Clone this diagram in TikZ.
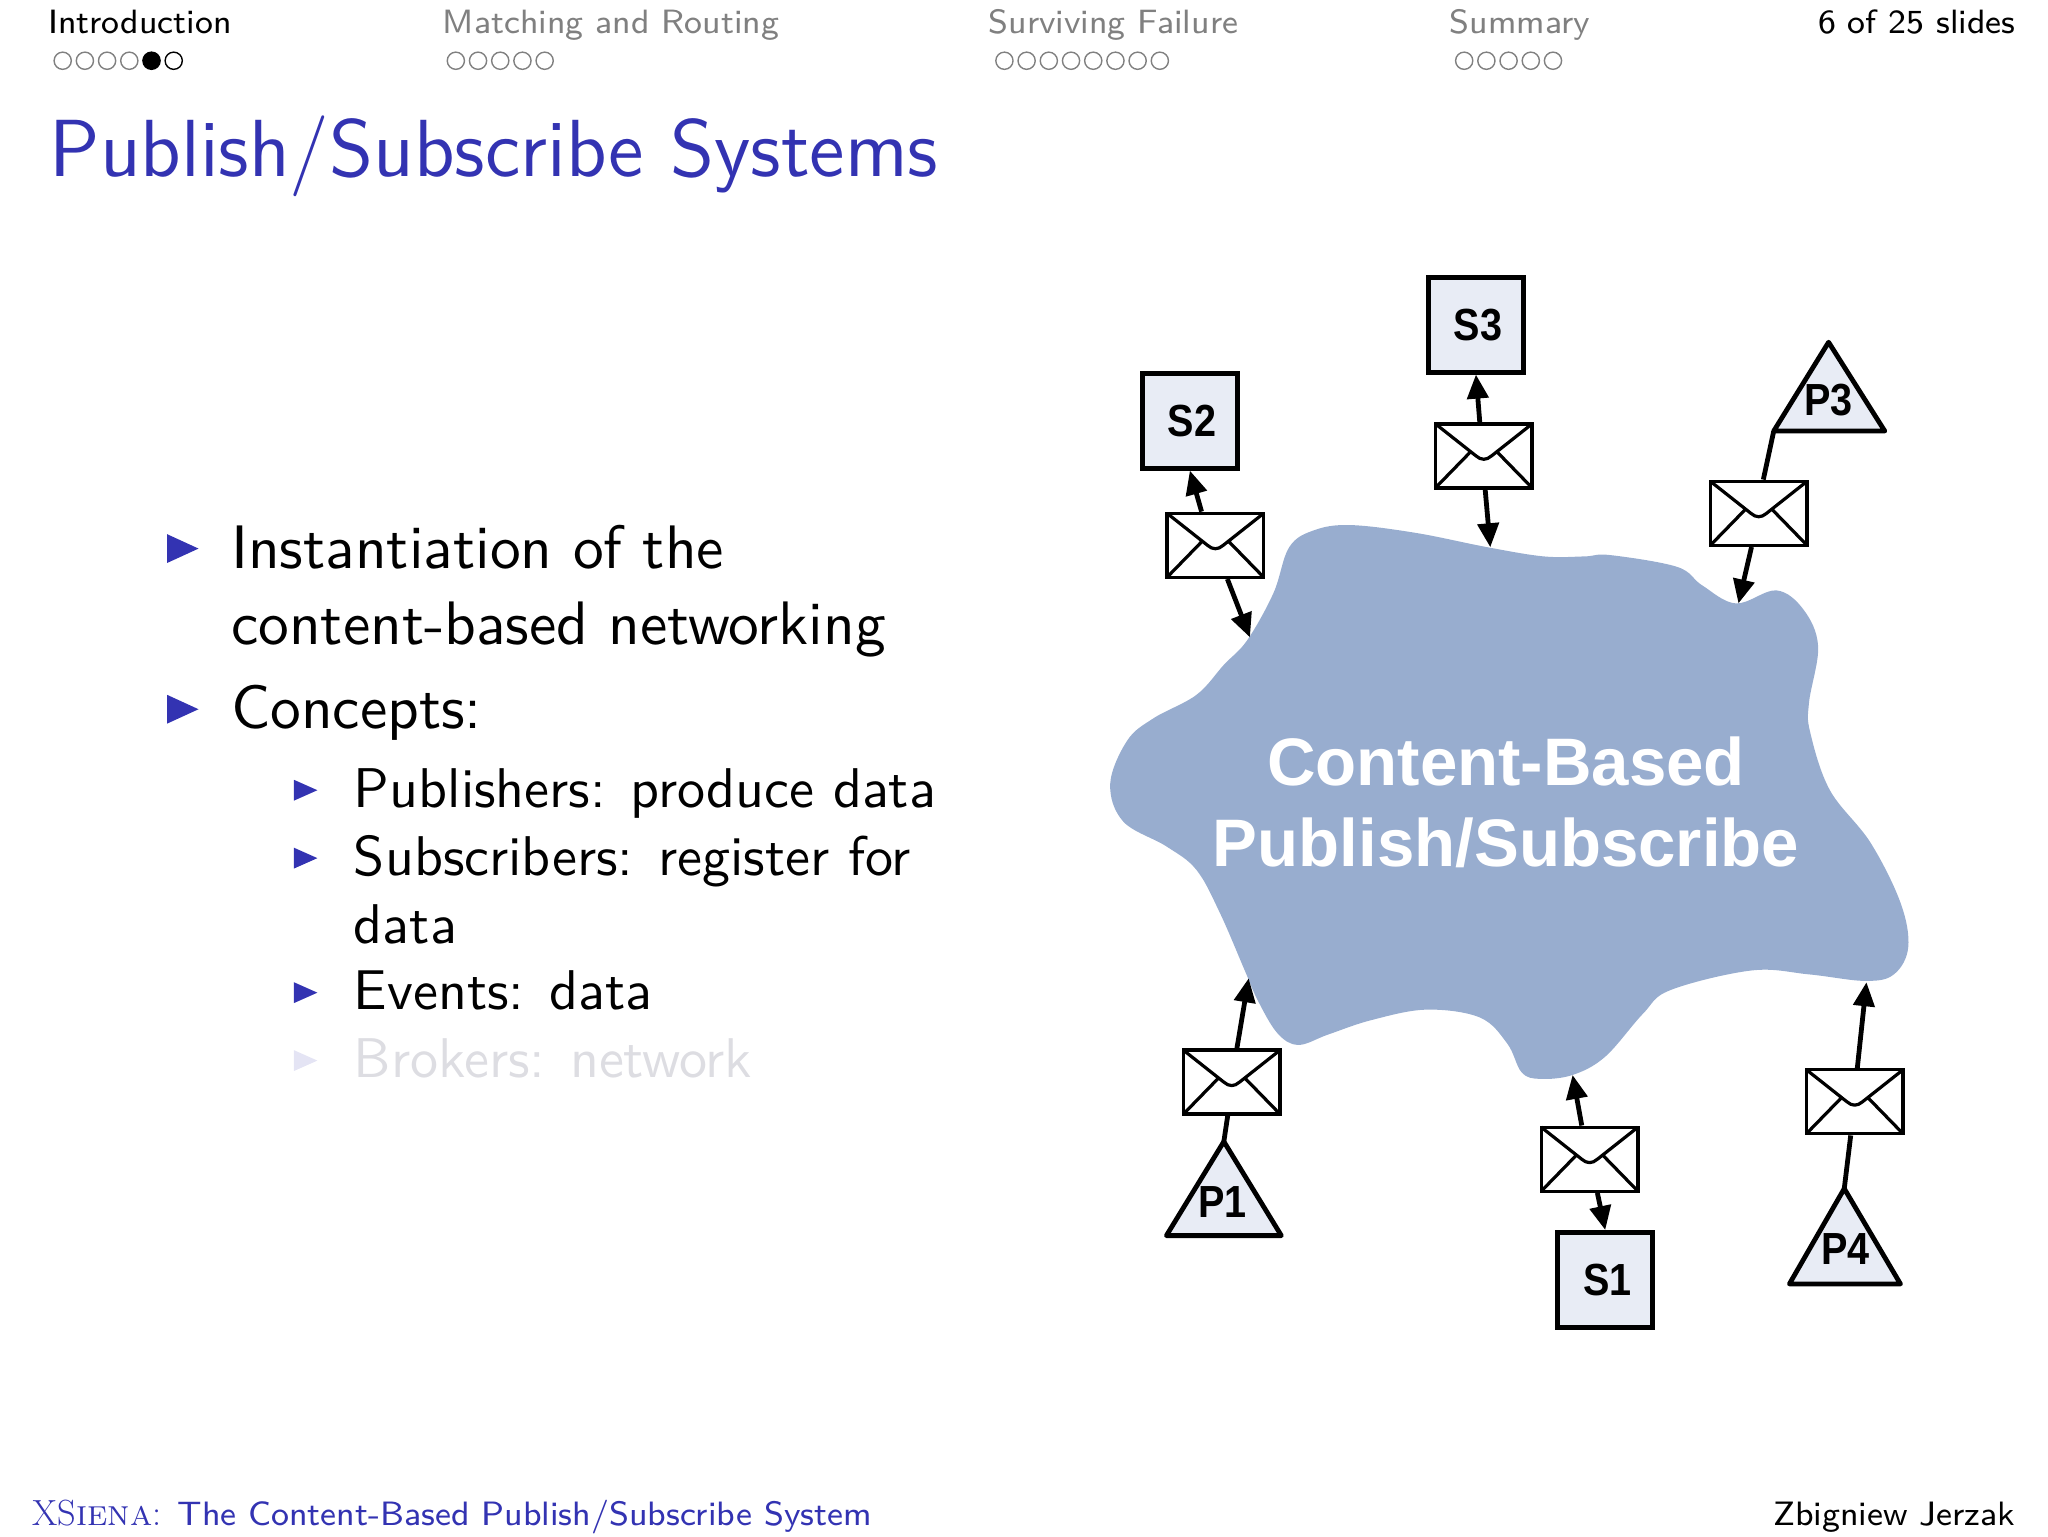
\documentclass[tikz,border=0pt]{standalone}
\usepackage{fontspec}
\usetikzlibrary{arrows.meta,calc}
\newfontfamily\cloudfont{Liberation Sans}
\newfontfamily\labelfont{Liberation Sans}[FakeStretch=0.88]
\newfontfamily\lmeight{lmsans8-regular}[Extension=.otf]
\newfontfamily\lmten{lmsans10-regular}[Extension=.otf]
\newfontfamily\lmtwelve{lmsans12-regular}[Extension=.otf]
\definecolor{beamerblue}{rgb}{0.2,0.2,0.7}
\definecolor{headgray}{gray}{0.5}
\definecolor{blobblue}{HTML}{98ADCF}
\definecolor{nodefill}{HTML}{E8ECF5}
\definecolor{fadetext}{HTML}{DDDDE2}
\definecolor{fadebul}{HTML}{E4E4F4}
\tikzset{
  x=0.65306pt,y=-0.65306pt,
  headtext/.style={font=\lmeight\fontsize{16.85}{20}\selectfont,anchor=base west,inner sep=0pt,outer sep=0pt},
  titletext/.style={font=\lmtwelve\fontsize{40.5}{48}\selectfont,text=beamerblue,anchor=base west,inner sep=0pt,outer sep=0pt},
  itemtext/.style={font=\lmten\fontsize{30.7}{38}\selectfont,anchor=base west,inner sep=0pt,outer sep=0pt},
  subtext/.style={font=\lmten\fontsize{28}{34}\selectfont,anchor=base west,inner sep=0pt,outer sep=0pt},
  foottext/.style={font=\lmeight\fontsize{16.9}{20}\selectfont,anchor=base west,inner sep=0pt,outer sep=0pt},
  navdot/.style={circle,draw=headgray,line width=0.7pt,minimum size=8.6pt,inner sep=0pt},
  navon/.style={navdot,draw=black},
  navfull/.style={navon,fill=black},
  subbox/.style={draw=black,fill=nodefill,line width=2.5pt,minimum width=47.5pt,minimum height=47.5pt,inner sep=0pt,execute at begin node=\hspace*{2pt},font=\labelfont\bfseries\fontsize{22.5}{26}\selectfont},
  pubtri/.style={draw=black,fill=nodefill,line width=2.4pt,line join=round},
  trilabel/.style={inner sep=0pt,font=\labelfont\bfseries\fontsize{22.5}{26}\selectfont},
  envbox/.style={draw=black,fill=white,line width=1.7pt,minimum width=48.3pt,minimum height=32pt,inner sep=0pt},
  envline/.style={draw=black,line width=1.6pt,line join=round},
  conn/.style={draw=black,line width=2.4pt},
  arr/.style={conn,-{Triangle[length=12pt,width=10.5pt]}},
  bigbul/.pic={\fill[beamerblue] (-12,-11)--(12,0)--(-12,11)--cycle;},
  subbul/.pic={\fill[beamerblue] (-9,-8)--(9,0)--(-9,8)--cycle;},
  fadebulpic/.pic={\fill[fadebul] (-9,-8)--(9,0)--(-9,8)--cycle;},
}
\newcommand{\envmail}[3]{%
  \node[envbox] (#1) at (#2,#3) {};
  \draw[envline,shift={(#1.center)}]
    (-37,-24.5) -- (-6,0) .. controls (-2,3.5) and (2,3.5) .. (6,0) -- (37,-24.5)
    (-37,24.5) -- (-10,-3.2) (37,24.5) -- (10,-3.2);
}
\begin{document}
\begin{tikzpicture}
\useasboundingbox (0,0) rectangle (1568,1176);
% header
\node[headtext] (h1) at (37,26) {Introduction};
\node[headtext,text=headgray] (h2) at (339,26) {Matching and Routing};
\node[headtext,text=headgray] (h3) at (757,26) {Surviving Failure};
\node[headtext,text=headgray] (h4) at (1110,26) {Summary};
\node[headtext,anchor=base east] (h5) at (1543,26) {6 of 25 slides};
\foreach \x/\s in {48/navdot,65/navdot,82/navdot,99/navdot,116/navfull,133/navon,
  349/navdot,366/navdot,383/navdot,400/navdot,417/navdot,
  769/navdot,786/navdot,803/navdot,820/navdot,837/navdot,854/navdot,871/navdot,888/navdot,
  1121/navdot,1138/navdot,1155/navdot,1172/navdot,1189/navdot}
  \node[\s] (dot\x) at (\x,46.5) {};
% title
\node[titletext] (title) at (38,135) {Publish/Subscribe Systems};
% items
\pic at (140,420) {bigbul};
\pic at (140,543) {bigbul};
\pic at (234,605) {subbul};
\pic at (234,657) {subbul};
\pic at (234,760) {subbul};
\pic at (234,812) {fadebulpic};
\node[itemtext] (i1) at (177,435) {Instantiation of the};
\node[itemtext] (i2) at (177,493.5) {content-based networking};
\node[itemtext] (i3) at (177,558) {Concepts:};
\node[subtext] (s1) at (271,618) {Publishers: produce data};
\node[subtext] (s2t) at (271,670) {Subscribers: register for};
\node[subtext] (s3t) at (271,722) {data};
\node[subtext] (s4t) at (271,773) {Events: data};
\node[subtext,text=fadetext] (s5t) at (271,825) {Brokers: network};
% footer
\node[foottext,text=beamerblue] (f1) at (25,1168) {{\rmfamily\fontsize{18.2}{20}\selectfont XS\textsc{iena}:} The Content-Based Publish/Subscribe System};
\node[foottext,anchor=base east] (f2) at (1543,1168) {Zbigniew Jerzak};
% cloud
\fill[blobblue] plot[smooth cycle,tension=0.6] coordinates {
 (955,490) (975,454) (987,419) (1006,406) (1034,402) (1084,408) (1139,419) (1182,426) (1213,426) (1233,425)
 (1284,434) (1303,448) (1329,462) (1360,452) (1381,467) (1392,495) (1385,538) (1386,561) (1401,605)
 (1432,645) (1455,691) (1461,725) (1450,746) (1428,751) (1385,746) (1341,743) (1279,758) (1258,776) (1229,809)
 (1204,823) (1179,826) (1165,821) (1154,799) (1133,779) (1092,773) (1050,781) (1017,792) (994,800)
 (978,791) (963,766) (953,743) (934,699) (916,666) (893,648) (860,629) (850,600) (863,567) (883,550)
 (916,532) (937,509)};
\node[font=\cloudfont\bfseries\fontsize{33.6}{40.5}\selectfont,text=white,align=center,inner sep=0pt] (cloud) at (1153,614) {Content-Based\\Publish/Subscribe};
\coordinate (c2) at (957,488);
\coordinate (c3) at (1141,419);
\coordinate (c3p) at (1331,462);
\coordinate (c1p) at (956,749);
\coordinate (c1) at (1204,823);
\coordinate (c4p) at (1429,752);
% subscribers
\node[subbox] (S1) at (1229,980) {S1};
\node[subbox] (S2) at (911,322) {S2};
\node[subbox] (S3) at (1130,248.5) {S3};
% publishers
\coordinate (P1t) at (937,874); \coordinate (P3t) at (1400,262); \coordinate (P4t) at (1412,910);
\coordinate (P3l) at (1358,330);
\draw[pubtri] (P1t) -- (981,946) -- (893,946) -- cycle;
\draw[pubtri] (P3t) -- (1443,330) -- (P3l) -- cycle;
\draw[pubtri] (P4t) -- (1455,983) -- (1370,983) -- cycle;
\node[trilabel] (P1) at (936,920) {P1};
\node[trilabel] (P3) at (1400,306) {P3};
\node[trilabel] (P4) at (1413,956) {P4};
% envelopes
\envmail{e2}{930.5}{417.5}
\envmail{e3}{1136}{349}
\envmail{e3p}{1346.5}{393}
\envmail{e1p}{943}{828.5}
\envmail{e1}{1217}{887.5}
\envmail{e4p}{1420}{843.5}
% connectors
\draw[arr] ([xshift=-6.9pt]e2.north) -- (S2.south);
\draw[arr] ([xshift=6pt]e2.south) -- (c2);
\draw[arr] ([xshift=-2pt]e3.north) -- (S3.south);
\draw[arr] ([xshift=0.7pt]e3.south) -- (c3);
\draw[conn] ([xshift=2.3pt]e3p.north) -- (P3l);
\draw[arr] ([xshift=-3.6pt]e3p.south) -- (c3p);
\draw[conn] ([xshift=-2pt]e1p.south) -- (P1t);
\draw[arr] ([xshift=2.6pt]e1p.north) -- (c1p);
\draw[arr] ([xshift=-3.9pt]e1.north) -- (c1);
\draw[arr] ([xshift=3.9pt]e1.south) -- (S1.north);
\draw[conn] ([xshift=-2pt]e4p.south) -- (P4t);
\draw[arr] ([xshift=1.3pt]e4p.north) -- (c4p);
\end{tikzpicture}
\end{document}
